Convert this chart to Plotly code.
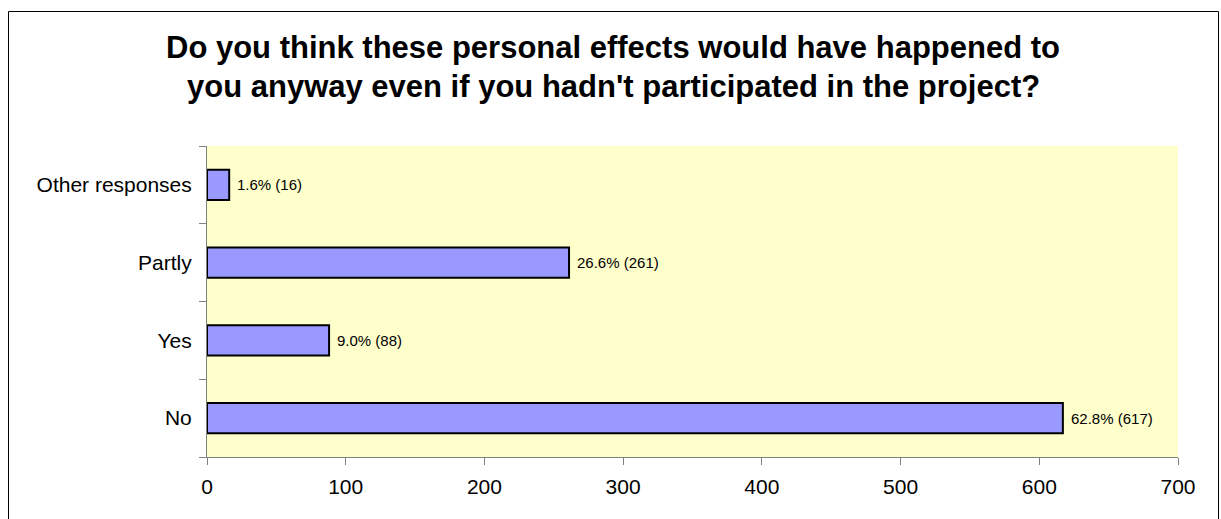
import plotly.graph_objects as go

# Survey responses (bottom to top as drawn)
categories = ["No", "Yes", "Partly", "Other responses"]
counts = [617, 88, 261, 16]
percents = [62.8, 9.0, 26.6, 1.6]

title_lines = [
    "Do you think these personal effects would have happened to",
    "you anyway even if you hadn't participated in the project?",
]

x_ticks = [0, 100, 200, 300, 400, 500, 600, 700]

W, H = 1221, 519
L, R, T, B = 207, 43, 146, 62

labels = [f"{p:.1f}% ({c})" for p, c in zip(percents, counts)]

fig = go.Figure(
    go.Bar(
        y=categories,
        x=counts,
        orientation="h",
        width=0.39,
        marker=dict(color="#9999FF", line=dict(color="#000000", width=2)),
        hoverinfo="x+y",
    )
)

pw = W - L - R
ph = H - T - B

def px_x(px):
    return (px - L) / pw

def px_y(py):
    return (H - B - py) / ph

annotations = []
for line, py in zip(title_lines, [47, 87]):
    annotations.append(
        dict(
            text=f"<b>{line}</b>",
            xref="paper", yref="paper",
            x=px_x(613), y=px_y(py),
            xanchor="center", yanchor="middle",
            showarrow=False,
            font=dict(family="Arial, Liberation Sans", size=31, color="#000000"),
        )
    )

# value labels placed just right of each bar end
for cat, val, lab in zip(categories, counts, labels):
    annotations.append(
        dict(
            text=lab,
            x=val, y=cat,
            xref="x", yref="y",
            xanchor="left", yanchor="middle",
            xshift=6,
            showarrow=False,
            font=dict(family="Arial, Liberation Sans", size=15, color="#000000"),
        )
    )

fig.update_layout(
    width=W,
    height=H,
    margin=dict(l=L, r=R, t=T, b=B),
    paper_bgcolor="#FFFFFF",
    plot_bgcolor="#FFFFCC",
    showlegend=False,
    annotations=annotations,
    font=dict(family="Arial, Liberation Sans", size=21, color="#000000"),
    shapes=[
        dict(
            type="rect",
            xref="paper", yref="paper",
            x0=px_x(8.5), x1=px_x(1218.5),
            y0=px_y(530), y1=px_y(11.5),
            line=dict(color="#000000", width=1),
            fillcolor="rgba(0,0,0,0)",
            layer="below",
        )
    ],
)

fig.update_xaxes(
    range=[0, 700],
    tickvals=x_ticks,
    ticktext=[str(v) for v in x_ticks],
    showgrid=False,
    zeroline=False,
    showline=True,
    linecolor="#808080",
    linewidth=1,
    ticks="outside",
    ticklen=7,
    tickcolor="#808080",
    tickfont=dict(size=21),
    ticklabelstandoff=4,
)

fig.update_yaxes(
    type="category",
    categoryorder="array",
    categoryarray=categories,
    range=[-0.5, 3.5],
    showgrid=False,
    zeroline=False,
    showline=True,
    linecolor="#808080",
    linewidth=1,
    ticks="outside",
    tickson="boundaries",
    ticklen=7,
    tickcolor="#808080",
    tickfont=dict(size=21),
    ticklabelstandoff=10,
)

fig.write_html("out.html")
